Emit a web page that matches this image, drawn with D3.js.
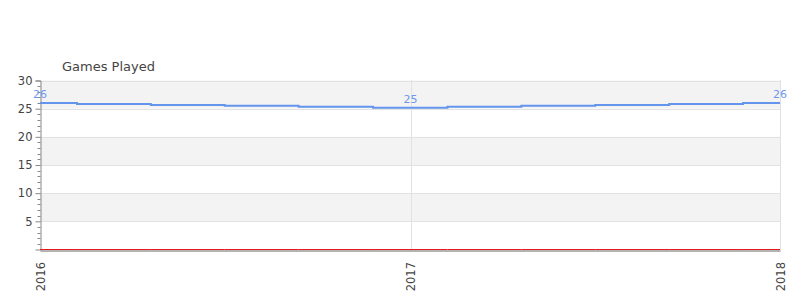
<!DOCTYPE html>
<html><head><meta charset="utf-8">
<script src="https://cdn.jsdelivr.net/npm/d3@7"></script>
<style>body{margin:0;background:#fff;font-family:"DejaVu Sans",sans-serif;}</style>
</head><body>
<svg id="c" width="800" height="300"></svg>
<script>
const title = "Games Played";
const dates = ["2016-01-01","2016-03-14","2016-05-26","2016-08-07","2016-10-19","2017-01-01","2017-03-15","2017-05-27","2017-08-08","2017-10-20","2018-01-01"];
const values = [26, 25.83, 25.66, 25.5, 25.33, 25.17, 25.33, 25.5, 25.66, 25.83, 26];
const baseline = [0,0,0,0,0,0,0,0,0,0,0];
const labelIdx = [0, 5, 10];
const yTicks = [5,10,15,20,25,30];
const xTicks = ["2016-01-01","2017-01-01","2018-01-01"];

const parse = d3.utcParse("%Y-%m-%d");
const svg = d3.select("#c");
const m = {l:40, r:20, t:80, b:50};
const W = 800, H = 300;
const x = d3.scaleUtc().domain([parse("2016-01-01"), parse("2018-01-01")]).range([m.l, W - m.r]);
const y = d3.scaleLinear().domain([0, 30]).range([249.5, 80.5]);

// bands
const g = svg.append("g");
const bands = [[25,30],[15,20],[5,10]];
g.selectAll("rect.band").data(bands).join("rect")
  .attr("x", m.l).attr("width", x.range()[1]-m.l)
  .attr("y", d => y(d[1])).attr("height", d => y(d[0]) - y(d[1]))
  .attr("fill", "#f3f3f3");
// horizontal grid
g.selectAll("line.hg").data(yTicks).join("line")
  .attr("x1", m.l).attr("x2", x.range()[1])
  .attr("y1", d => Math.round(y(d))+0.5).attr("y2", d => Math.round(y(d))+0.5)
  .attr("stroke", "#e2e2e2");
// vertical grid
g.selectAll("line.vg").data(xTicks.slice(1)).join("line")
  .attr("x1", d => Math.round(x(parse(d)))+0.5).attr("x2", d => Math.round(x(parse(d)))+0.5)
  .attr("y1", 80).attr("y2", 249.5)
  .attr("stroke", "#e2e2e2");

// y axis
const yAxis = d3.axisLeft(y).tickValues(yTicks).tickSize(5).tickPadding(3);
const ya = svg.append("g").attr("transform", `translate(${m.l+0.5},0)`).call(yAxis);
ya.select(".domain").attr("stroke", "#888");
ya.selectAll(".tick line").attr("stroke", "#888");
ya.selectAll("text").attr("fill", "#444").style("font-size", "11.5px").style("font-family", "DejaVu Sans");
const minor = d3.range(1, 30).filter(v => v % 5 !== 0);
ya.selectAll("line.minor").data(minor).join("line").attr("class","minor")
  .attr("x1", -3).attr("x2", 0)
  .attr("y1", d => Math.round(y(d))+0.5).attr("y2", d => Math.round(y(d))+0.5)
  .attr("stroke", "#888");

// x axis
const xAxis = d3.axisBottom(x).tickValues(xTicks.map(parse)).tickSize(0).tickFormat(d3.utcFormat("%Y"));
const xa = svg.append("g").attr("transform", `translate(0,250.5)`).call(xAxis);
xa.select(".domain").attr("stroke", "#666").attr("stroke-width", 1);
xa.selectAll("text").attr("fill", "#444").style("font-size", "11.5px").style("font-family", "DejaVu Sans")
  .attr("text-anchor", "end").attr("transform", "translate(0,11.5) rotate(-90)")
  .attr("x", 0).attr("y", 0).attr("dy", "0.35em");

// series
const pts = dates.map((d,i) => ({d: parse(d), v: values[i]}));
const base = dates.map((d,i) => ({d: parse(d), v: baseline[i]}));
const line = d3.line().x(p => x(p.d)).y(p => y(p.v)).curve(d3.curveStep);
svg.append("path").datum(base).attr("d", line).attr("fill","none").attr("stroke","#e41a1c").attr("stroke-width",1);
svg.append("path").datum(pts).attr("d", line).attr("fill","none").attr("stroke","#6495ed").attr("stroke-width",2);

svg.selectAll("text.lbl").data(labelIdx.map(i => pts[i])).join("text").attr("class","lbl")
  .attr("x", p => x(p.d)).attr("y", p => y(p.v) - 5)
  .attr("text-anchor","middle").attr("fill","#7097ec")
  .style("font-size","11px").style("font-family","DejaVu Sans")
  .text(p => d3.format(".0f")(p.v));

svg.append("text").attr("x", 62).attr("y", 71).attr("fill","#444")
  .style("font-size","13px").style("font-family","DejaVu Sans").text(title);
</script>
</body></html>
